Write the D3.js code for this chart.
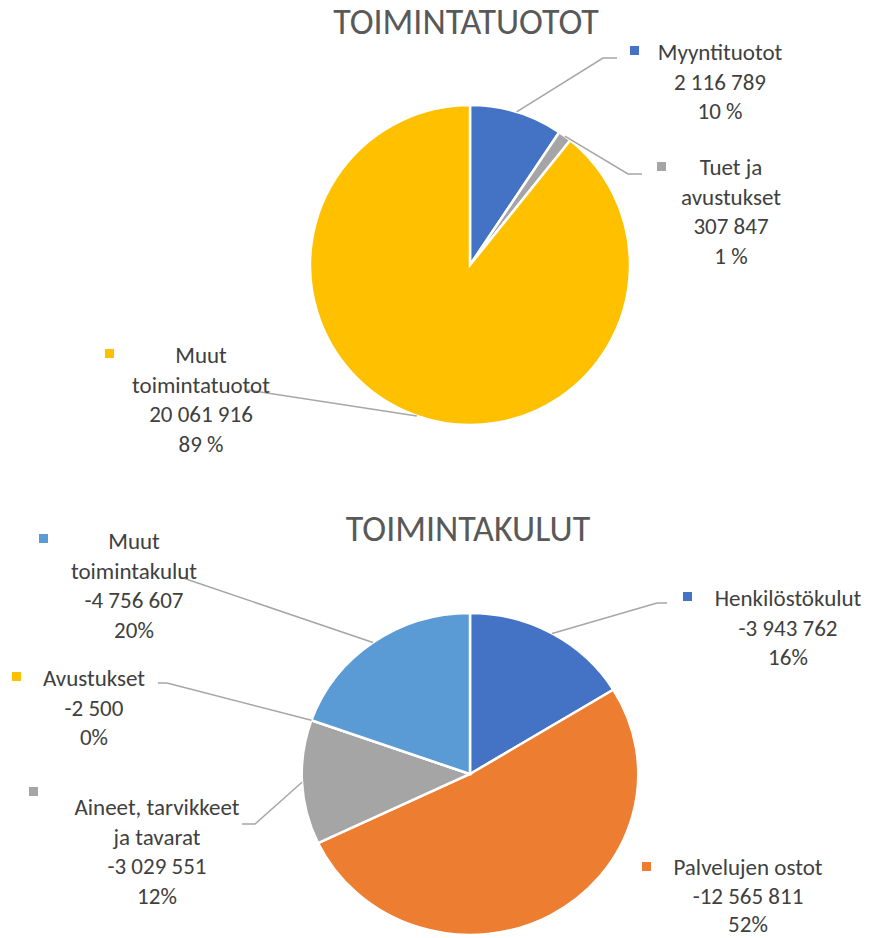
<!DOCTYPE html>
<html>
<head>
<meta charset="utf-8">
<script src="https://cdn.jsdelivr.net/npm/d3@7"></script>
<style>
  body { margin: 0; background: #fff; }
  svg text { font-family: Carlito, Lato, "Open Sans", sans-serif; fill: #404040; }
</style>
</head>
<body>
<script>
// toimintatuotot
const incomeNames = ["Myyntituotot", "Tuet ja avustukset", "Muut toimintatuotot"];
const incomeValues = [2116789, 307847, 20061916];
const incomePct = ["10 %", "1 %", "89 %"];
const incomeColors = ["#4472C4", "#A5A5A5", "#FFC000"];

// toimintakulut
const costNames = ["Henkilöstökulut", "Palvelujen ostot", "Aineet, tarvikkeet ja tavarat", "Avustukset", "Muut toimintakulut"];
const costValues = [-3943762, -12565811, -3029551, -2500, -4756607];
const costPct = ["16%", "52%", "12%", "0%", "20%"];
const costColors = ["#4472C4", "#ED7D31", "#A5A5A5", "#FFC000", "#5B9BD5"];

const width = 874, height = 938;
const fs = 23, lh = 29.5;

// label layout: text centre x, first line centre y, key square, name lines, leader elbow points
const incomeLabels = [
  {cx: 720, y: 52, key: [630, 46], lines: ["Myyntituotot"], leader: [[617, 58], [603, 58]]},
  {cx: 731, y: 167, key: [657, 162], lines: ["Tuet ja", "avustukset"], leader: [[642, 174], [628, 174]]},
  {cx: 201, y: 355, key: [105, 349], lines: ["Muut", "toimintatuotot"], leader: [[247, 390]]}
];
const costLabels = [
  {cx: 788, y: 598, key: [683, 592], lines: ["Henkilöstökulut"], leader: [[667, 603], [657, 603]]},
  {cx: 748, y: 867, key: [642, 862], lines: ["Palvelujen ostot"], leader: null, lh: 28.5},
  {cx: 157, y: 807, key: [29, 787], lines: ["Aineet, tarvikkeet", "ja tavarat"], leader: [[242, 824], [255, 824]]},
  {cx: 94, y: 678, key: [12, 672], lines: ["Avustukset"], leader: [[158, 683], [167, 683]]},
  {cx: 134, y: 541, key: [39, 534], lines: ["Muut", "toimintakulut"], leader: [[180, 577]]}
];

const fi = d3.formatLocale({decimal: ",", thousands: " ", grouping: [3], currency: ["", ""], minus: "-"});
const fmt = fi.format(",");

const svg = d3.select("body").append("svg")
  .attr("width", width)
  .attr("height", height);

function drawPie(cfg) {
  const g = svg.append("g");
  g.append("text")
    .attr("x", cfg.titleX).attr("y", cfg.titleY)
    .attr("text-anchor", "middle")
    .style("font-size", "36px")
    .style("fill", "#595959")
    .text(cfg.title);

  const arcs = d3.pie().sort(null).value(d => Math.abs(d))(cfg.values);
  const arc = d3.arc().innerRadius(0).outerRadius(cfg.r);

  const pieG = g.append("g")
    .attr("transform", `translate(${cfg.cx},${cfg.cy}) scale(${cfg.sx},1)`);
  pieG.selectAll("path").data(arcs).enter().append("path")
    .attr("d", arc)
    .attr("fill", (d, i) => cfg.colors[i])
    .attr("stroke", "#fff")
    .attr("stroke-width", 2.5)
    .attr("vector-effect", "non-scaling-stroke");

  // leader lines
  const line = d3.line();
  arcs.forEach((a, i) => {
    const lab = cfg.labels[i];
    if (!lab.leader) return;
    const mid = (a.startAngle + a.endAngle) / 2;
    const px = cfg.cx + cfg.r * cfg.sx * Math.sin(mid);
    const py = cfg.cy - cfg.r * Math.cos(mid);
    g.append("path")
      .attr("d", line(lab.leader.concat([[px, py]])))
      .attr("fill", "none")
      .attr("stroke", "#A6A6A6")
      .attr("stroke-width", 1.5);
  });

  // data labels
  cfg.labels.forEach((lab, i) => {
    g.append("rect")
      .attr("x", lab.key[0]).attr("y", lab.key[1])
      .attr("width", 9).attr("height", 9)
      .attr("fill", cfg.colors[i]);
    const rows = lab.lines.concat([fmt(cfg.values[i]), cfg.pct[i]]);
    const step = lab.lh || lh;
    g.selectAll(null).data(rows).enter().append("text")
      .attr("x", lab.cx)
      .attr("y", (d, k) => lab.y + k * step)
      .attr("dy", "0.35em")
      .attr("text-anchor", "middle")
      .style("font-size", fs + "px")
      .text(d => d);
  });
}

drawPie({
  title: "TOIMINTATUOTOT", titleX: 466, titleY: 34,
  values: incomeValues, pct: incomePct, colors: incomeColors, labels: incomeLabels,
  cx: 470, cy: 265, r: 160, sx: 1
});

drawPie({
  title: "TOIMINTAKULUT", titleX: 468, titleY: 541,
  values: costValues, pct: costPct, colors: costColors, labels: costLabels,
  cx: 470, cy: 774, r: 161, sx: 1.045
});
</script>
</body>
</html>
